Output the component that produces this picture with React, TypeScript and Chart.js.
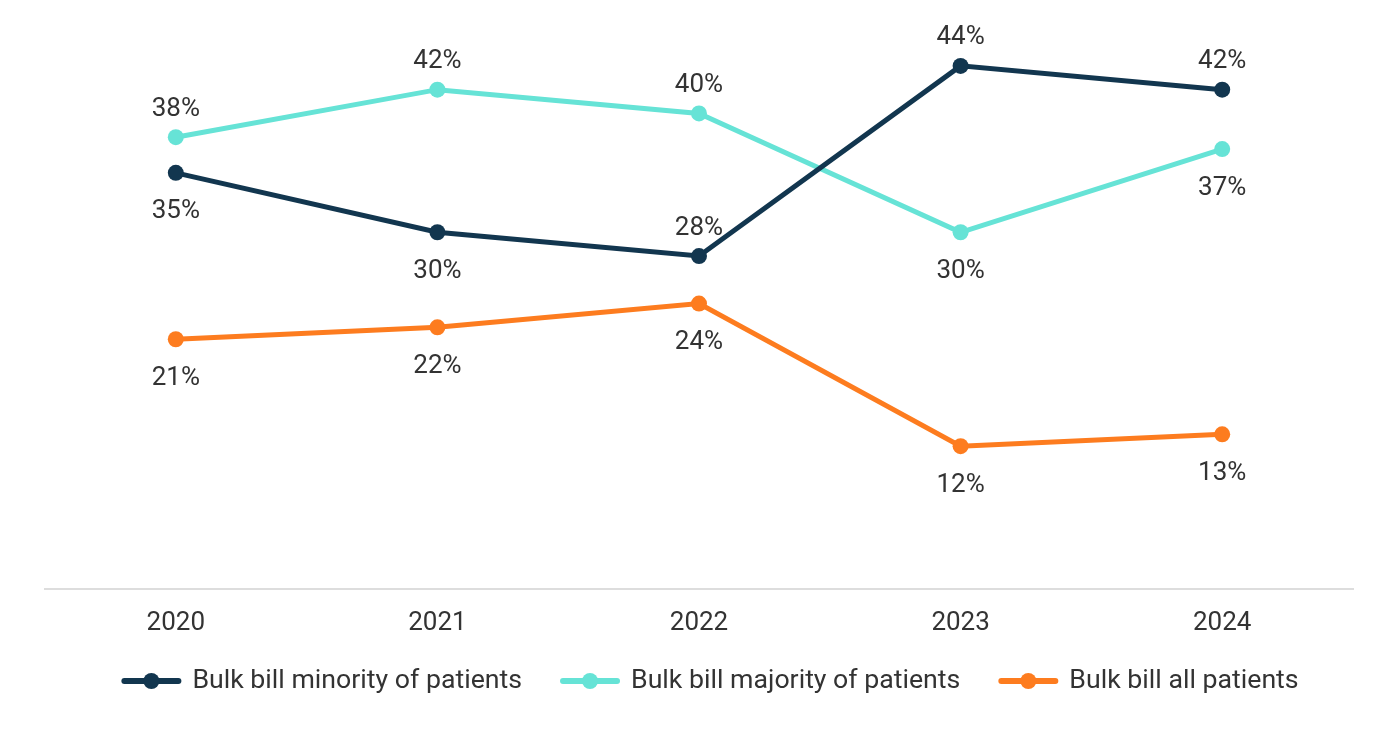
import React, { useEffect, useRef } from "react";
import { Chart, registerables } from "chart.js";

Chart.register(...registerables);

const years = ["2020", "2021", "2022", "2023", "2024"];
const minorityValues = [35, 30, 28, 44, 42];
const majorityValues = [38, 42, 40, 30, 37];
const allValues = [21, 22, 24, 12, 13];

const seriesNames = [
  "Bulk bill minority of patients",
  "Bulk bill majority of patients",
  "Bulk bill all patients",
];
const seriesColors = ["#12364f", "#66e3d6", "#fd7c1f"];
// label placement per point: "above" or "below"
const minorityPlacement = ["below", "below", "above", "above", "above"];
const majorityPlacement = ["above", "above", "above", "below", "below"];
const allPlacement = ["below", "below", "below", "below", "below"];

const FONT = "Roboto, 'Noto Sans', sans-serif";
const TEXT = "#333333";

const labelPlugin = {
  id: "pointLabels",
  afterDatasetsDraw(chart: any) {
    const ctx = chart.ctx;
    const placements = [minorityPlacement, majorityPlacement, allPlacement];
    ctx.save();
    ctx.font = `26px ${FONT}`;
    ctx.fillStyle = TEXT;
    ctx.textAlign = "center";
    ctx.textBaseline = "middle";
    chart.data.datasets.forEach((ds: any, i: number) => {
      const meta = chart.getDatasetMeta(i);
      meta.data.forEach((pt: any, j: number) => {
        const above = placements[i][j] === "above";
        const y = above ? pt.y - 28 : pt.y + 39;
        ctx.fillText(`${ds.data[j]}%`, pt.x, y);
      });
    });
    ctx.restore();
  },
};

const legendPlugin = {
  id: "customLegend",
  afterDraw(chart: any) {
    const ctx = chart.ctx;
    ctx.save();
    ctx.font = `26.7px ${FONT}`;
    const lineW = 60;
    const textGap = 11;
    const itemGap = 38;
    const widths = seriesNames.map((n) => lineW + textGap + ctx.measureText(n).width);
    const total = widths.reduce((a, b) => a + b, 0) + itemGap * (seriesNames.length - 1);
    let x = chart.width / 2 + 10 - total / 2;
    const y = 673;
    seriesNames.forEach((name, i) => {
      ctx.strokeStyle = seriesColors[i];
      ctx.lineWidth = 6;
      ctx.lineCap = "round";
      ctx.beginPath();
      ctx.moveTo(x + 3, y);
      ctx.lineTo(x + lineW - 3, y);
      ctx.stroke();
      ctx.fillStyle = seriesColors[i];
      ctx.beginPath();
      ctx.arc(x + lineW / 2, y, 8, 0, Math.PI * 2);
      ctx.fill();
      ctx.fillStyle = TEXT;
      ctx.textAlign = "left";
      ctx.textBaseline = "middle";
      ctx.fillText(name, x + lineW + textGap, y);
      x += widths[i] + itemGap;
    });
    ctx.restore();
  },
};

export default function App() {
  const ref = useRef<HTMLCanvasElement>(null);
  useEffect(() => {
    if (!ref.current) return;
    const values = [minorityValues, majorityValues, allValues];
    const chart = new Chart(ref.current, {
      type: "line",
      data: {
        labels: years,
        datasets: values.map((v, i) => ({
          label: seriesNames[i],
          data: v,
          borderColor: seriesColors[i],
          backgroundColor: seriesColors[i],
          pointBackgroundColor: seriesColors[i],
          pointBorderWidth: 0,
          pointRadius: 8,
          borderWidth: 5,
          tension: 0,
          clip: false as any,
        })),
      },
      options: {
        animation: false,
        responsive: false,
        maintainAspectRatio: false,
        layout: { padding: { left: 37, right: 39, top: 46, bottom: 69 } },
        plugins: { legend: { display: false }, tooltip: { enabled: false } },
        scales: {
          x: {
            offset: true,
            grid: { display: false, drawTicks: false },
            border: { display: true, color: "#dddddd", width: 2 },
            ticks: { color: TEXT, font: { size: 26, family: FONT }, padding: 19 },
          },
          y: {
            display: false,
            min: 0,
            max: 45,
          },
        },
      },
      plugins: [labelPlugin, legendPlugin],
    });
    return () => chart.destroy();
  }, []);
  return (
    <div style={{ width: 1384, height: 719 }}>
      <canvas ref={ref} width={1384} height={719} style={{ width: 1384, height: 719 }} />
    </div>
  );
}
